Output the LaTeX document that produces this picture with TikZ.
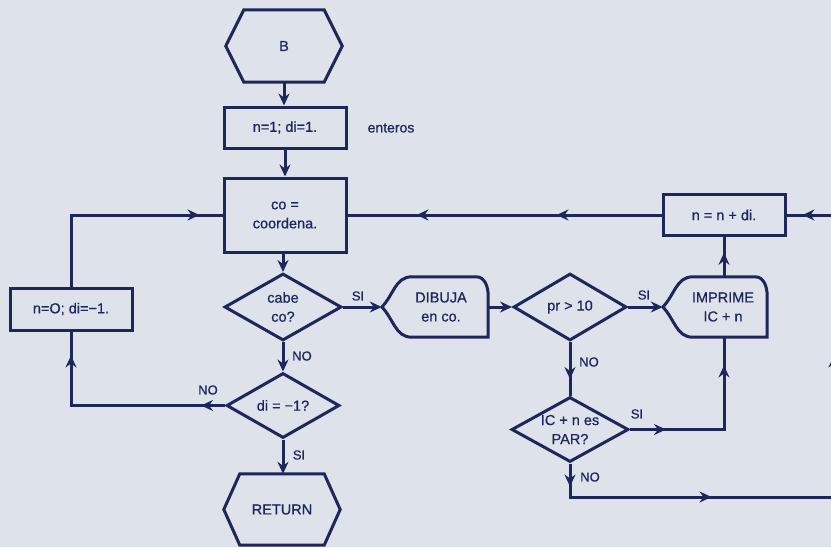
\documentclass[tikz,border=0pt]{standalone}
\usepackage{fontspec}
\setmainfont{Liberation Sans}
\newfontfamily\medfont{Liberation Sans}[FakeBold=0.7]
\usetikzlibrary{arrows.meta,decorations.markings,shapes.geometric}
\definecolor{ink}{RGB}{30,38,90}
\definecolor{paper}{RGB}{222,226,234}
\tikzset{
 txt/.style={font=\medfont\fontsize{14.5}{19}\selectfont, text=ink, align=center, inner sep=0pt},
 lab/.style={font=\medfont\fontsize{13}{15}\selectfont, text=ink, inner sep=0pt},
 frame/.style={draw=ink, line width=3pt},
 boxnode/.style 2 args={txt, frame, rectangle, minimum width=#1, minimum height=#2},
 dianode/.style 2 args={frame, diamond, inner sep=0pt, minimum width=#1, minimum height=#2},
 holder/.style 2 args={txt, rectangle, minimum width=#1, minimum height=#2},
 conn/.style={draw=ink, line width=3pt},
 tipend/.style={-{Stealth[length=12pt,width=11pt,inset=4pt]}},
 ar/.style={postaction={decorate,decoration={markings,mark=at position #1 with {\arrow{Stealth[length=12pt,width=11pt,inset=4pt]}}}}},
}
\newcommand\hexframe[2]{\draw[frame] ([xshift=#2]#1.north west) -- ([xshift=-#2]#1.north east) -- (#1.east) -- ([xshift=-#2]#1.south east) -- ([xshift=#2]#1.south west) -- (#1.west) -- cycle;}
\newcommand\dispframe[1]{\draw[frame,line cap=round] (#1.west) to[out=45,in=180] ([xshift=30pt]#1.north west) -- ([xshift=-12pt]#1.north east) to[out=0,in=90] ([yshift=-19pt]#1.north east) -- (#1.south east) -- ([xshift=30pt]#1.south west) to[out=180,in=-45] (#1.west);}
\begin{document}
\begin{tikzpicture}[x=1pt,y=-1pt]
\fill[paper] (0,0) rectangle (831,547);
\useasboundingbox (0,0) rectangle (831,547);
% nodes
\node[holder={116pt}{72pt}] (B) at (284,46) {B};
\hexframe{B}{18pt}
\node[boxnode={122pt}{41pt}] (N1) at (285,127.5) {n=1; di=1.};
\node[lab,font=\medfont\fontsize{14}{16}\selectfont] (ent) at (391,128) {enteros};
\node[boxnode={122pt}{74pt}] (CO) at (285,215) {co =\\coordena.};
\node[dianode={117pt}{67pt}, label={[txt]center:cabe\\co?}] (CABE) at (283,307) {};
\node[dianode={113pt}{65pt}, label={[txt]center:di = −1?}] (DI) at (283,405.5) {};
\node[holder={116pt}{71pt}] (RET) at (282,509.5) {RETURN};
\hexframe{RET}{16pt}
\node[boxnode={122pt}{42pt}] (NO0) at (71,309) {n=O; di=−1.};
\node[holder={106pt}{60pt}, label={[txt,xshift=6pt]center:DIBUJA\\en co.}] (DIB) at (435,307) {};
\dispframe{DIB}
\node[dianode={113pt}{67pt}, label={[txt]center:pr > 10}] (PR) at (570,307) {};
\node[holder={104pt}{60pt}, label={[txt,xshift=8pt]center:IMPRIME\\IC + n}] (IMP) at (715,307) {};
\dispframe{IMP}
\node[boxnode={122pt}{41pt}] (NN) at (724,215) {n = n + di.};
\node[dianode={117pt}{65pt}, label={[txt]center:IC + n es\\PAR?}] (PAR) at (570,429.5) {};
\coordinate (rt) at (834,497);
% connectors
\draw[conn,tipend] (B.south) -- (B.south |- N1.north);
\draw[conn,tipend] (N1.south) -- (CO.north);
\draw[conn,tipend] (CO.south -| CABE.north) -- (CABE.north);
\draw[conn,tipend] (CABE.south) -- (DI.north);
\draw[conn,tipend] (DI.south) -- (DI.south |- RET.north);
\draw[conn,ar=24pt,ar=204pt] (DI.west) -| (NO0.south);
\draw[conn,ar=200pt] (NO0.north) |- (CO.west);
\draw[conn,tipend] (CABE.east) -- (DIB.west);
\draw[conn,tipend] (DIB.east) -- (PR.west);
\draw[conn,tipend] (PR.east) -- (IMP.west);
\draw[conn,ar=37pt] (PR.south) -- (PAR.north);
\draw[conn,ar=36pt,ar=158pt] (PAR.east) -| (NN.south |- IMP.south);
\draw[conn,ar=24pt] (NN.south |- IMP.north) -- (NN.south);
\draw[conn,ar=105pt,ar=245pt] (NN.west) -- (CO.east);
\draw[conn,ar=23pt,ar=175pt,ar=439pt,ar=611pt] (PAR.south) |- (rt) |- (NN.east);
% labels
\node[lab] (l1) at (358,296) {SI};
\node[lab] (l2) at (302,356) {NO};
\node[lab] (l3) at (208,390) {NO};
\node[lab] (l4) at (299,455) {SI};
\node[lab] (l5) at (644,295) {SI};
\node[lab] (l6) at (589,362) {NO};
\node[lab] (l7) at (637,414) {SI};
\node[lab] (l8) at (590,477) {NO};
\end{tikzpicture}
\end{document}
